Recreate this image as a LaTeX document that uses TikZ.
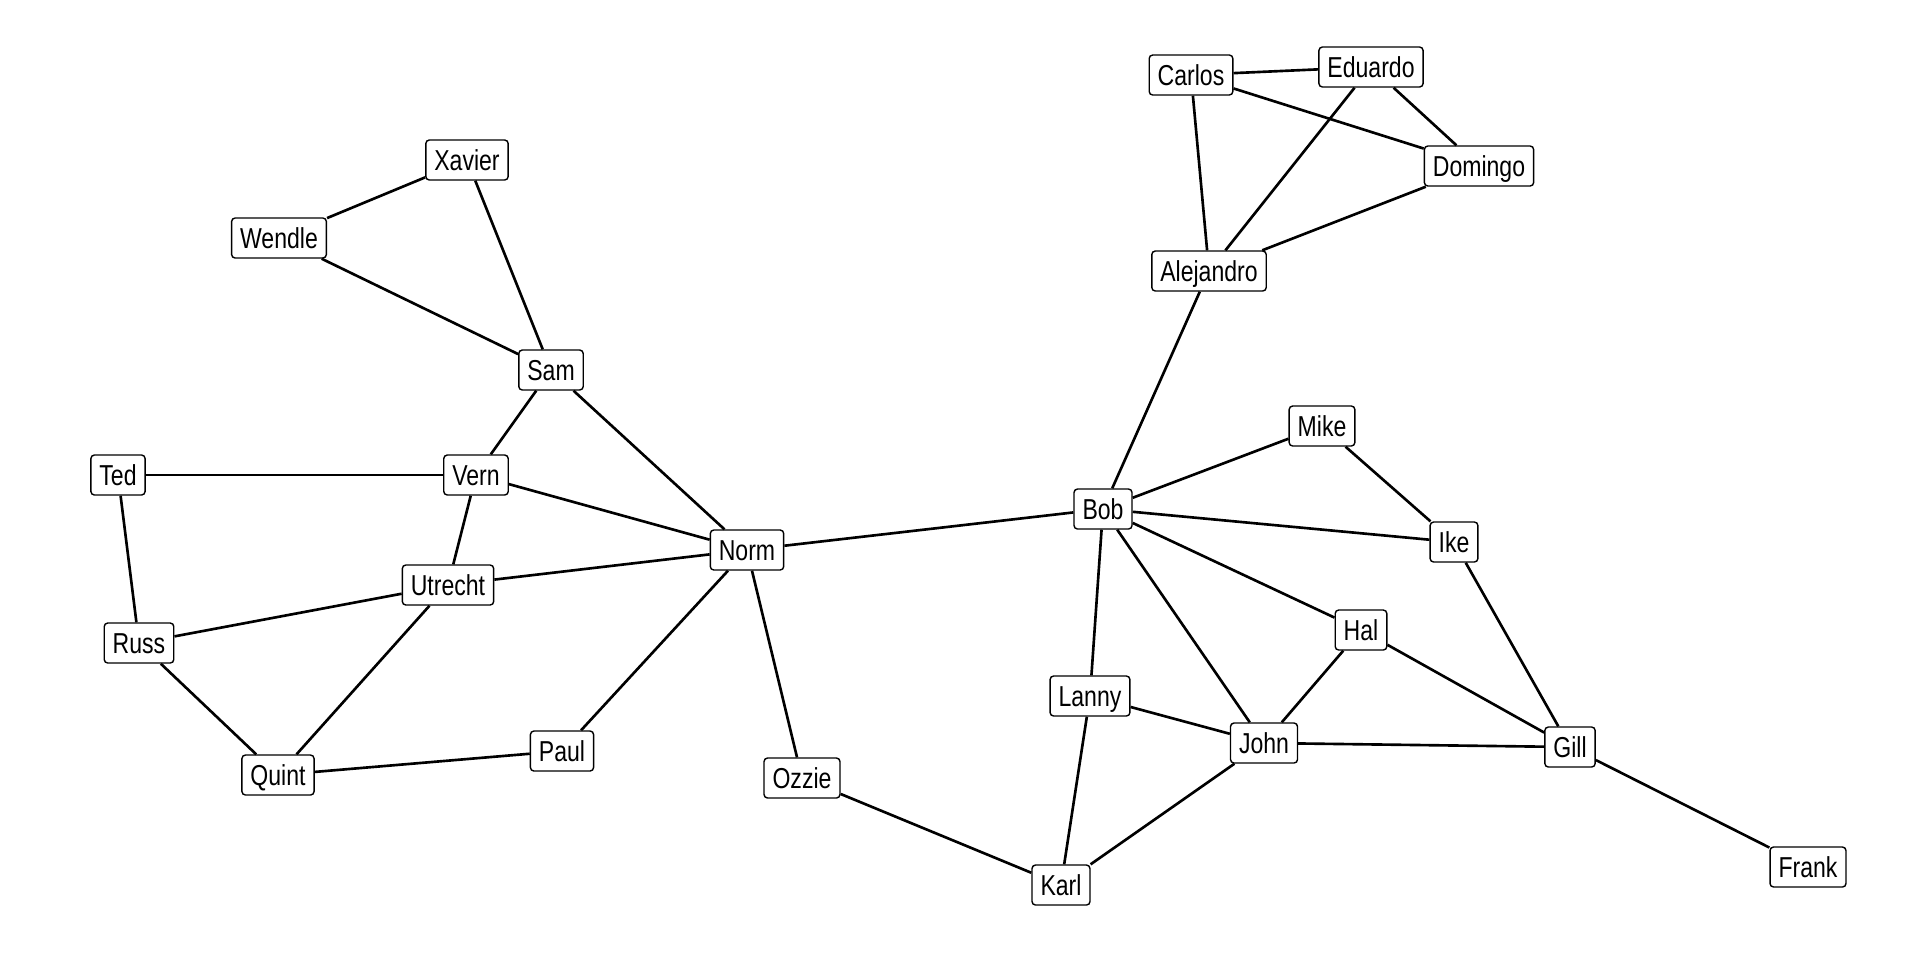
\documentclass[tikz,border=0pt]{standalone}
\usepackage{fontspec}
\setmainfont{Liberation Sans}[FakeStretch=0.8]
\usepackage{tikz}
\tikzstyle{person}=[draw=black,line width=0.4pt,fill=white,rounded corners=0.35mm,
  inner xsep=0.85mm,inner ysep=0pt,minimum height=4.0mm,text height=5.9pt,text depth=0pt,
  font=\fontsize{8.2}{9.5}\selectfont]
\tikzstyle{link}=[line width=0.75pt]

\begin{document}
\begin{tikzpicture}
    \useasboundingbox (0,0) rectangle (19.2,-9.6);
    % people
    \node [person] (xavier) at (4.67,-1.60) {Xavier};
    \node [person] (wendle) at (2.79,-2.38) {Wendle};
    \node [person] (sam) at (5.51,-3.70) {Sam};
    \node [person] (ted) at (1.18,-4.75) {Ted};
    \node [person] (vern) at (4.76,-4.75) {Vern};
    \node [person] (norm) at (7.47,-5.50) {Norm};
    \node [person] (utrecht) at (4.48,-5.85) {Utrecht};
    \node [person] (russ) at (1.39,-6.43) {Russ};
    \node [person] (quint) at (2.78,-7.75) {Quint};
    \node [person] (paul) at (5.62,-7.51) {Paul};
    \node [person] (ozzie) at (8.02,-7.78) {Ozzie};
    \node [person] (karl) at (10.61,-8.85) {Karl};
    \node [person] (lanny) at (10.90,-6.96) {Lanny};
    \node [person] (john) at (12.64,-7.43) {John};
    \node [person] (hal) at (13.61,-6.30) {Hal};
    \node [person] (gill) at (15.70,-7.47) {Gill};
    \node [person] (frank) at (18.08,-8.67) {Frank};
    \node [person] (ike) at (14.54,-5.42) {Ike};
    \node [person] (mike) at (13.22,-4.26) {Mike};
    \node [person] (bob) at (11.03,-5.09) {Bob};
    \node [person] (alejandro) at (12.09,-2.71) {Alejandro};
    \node [person] (carlos) at (11.91,-0.75) {Carlos};
    \node [person] (eduardo) at (13.71,-0.67) {Eduardo};
    \node [person] (domingo) at (14.79,-1.66) {Domingo};
    % links
    \draw [link] (xavier) -- (wendle);
    \draw [link] (xavier) -- (sam);
    \draw [link] (wendle) -- (sam);
    \draw [link] (sam) -- (vern);
    \draw [link] (sam) -- (norm);
    \draw [link] (ted) -- (vern);
    \draw [link] (ted) -- (russ);
    \draw [link] (vern) -- (norm);
    \draw [link] (vern) -- (utrecht);
    \draw [link] (utrecht) -- (norm);
    \draw [link] (utrecht) -- (russ);
    \draw [link] (utrecht) -- (quint);
    \draw [link] (russ) -- (quint);
    \draw [link] (quint) -- (paul);
    \draw [link] (paul) -- (norm);
    \draw [link] (norm) -- (ozzie);
    \draw [link] (norm) -- (bob);
    \draw [link] (ozzie) -- (karl);
    \draw [link] (karl) -- (lanny);
    \draw [link] (karl) -- (john);
    \draw [link] (lanny) -- (john);
    \draw [link] (lanny) -- (bob);
    \draw [link] (bob) -- (john);
    \draw [link] (bob) -- (hal);
    \draw [link] (bob) -- (ike);
    \draw [link] (bob) -- (mike);
    \draw [link] (bob) -- (alejandro);
    \draw [link] (mike) -- (ike);
    \draw [link] (ike) -- (gill);
    \draw [link] (hal) -- (john);
    \draw [link] (hal) -- (gill);
    \draw [link] (john) -- (gill);
    \draw [link] (gill) -- (frank);
    \draw [link] (alejandro) -- (carlos);
    \draw [link] (alejandro) -- (eduardo);
    \draw [link] (alejandro) -- (domingo);
    \draw [link] (carlos) -- (eduardo);
    \draw [link] (carlos) -- (domingo);
    \draw [link] (eduardo) -- (domingo);
\end{tikzpicture}
\end{document}
